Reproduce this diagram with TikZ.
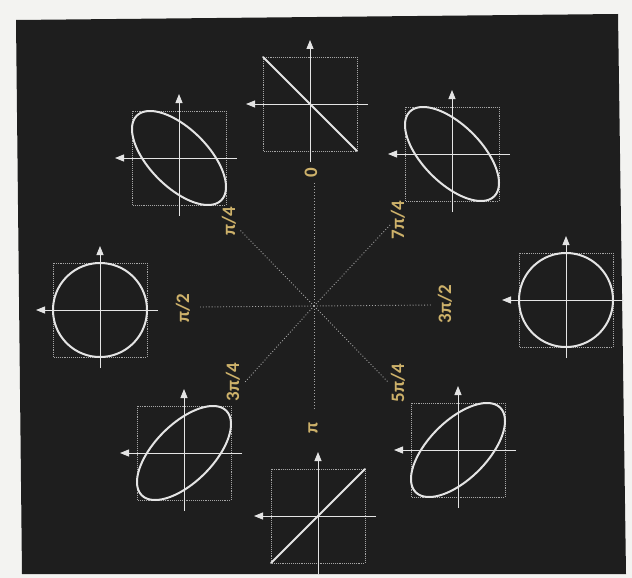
\documentclass[tikz,border=0pt]{standalone}
\usepackage{fontspec}
\setmainfont{Carlito}
\usetikzlibrary{arrows.meta}
\definecolor{paper}{HTML}{F3F3F1}
\definecolor{board}{HTML}{1E1E1E}
\definecolor{chalk}{HTML}{E4E4E4}
\definecolor{dotgray}{HTML}{A6A6A6}
\definecolor{gold}{HTML}{CDB16A}
\begin{document}
\begin{tikzpicture}[x=1pt,y=-1pt,
  boxline/.style={dotgray, densely dotted, line width=0.9pt},
  axisline/.style={chalk, line width=0.9pt},
  tipped/.style={-{Triangle[width=7pt,length=9pt]}},
  trace/.style={chalk, line width=2pt, line join=round, line cap=round},
  radial/.style={dotgray, dotted, line width=0.9pt},
  phaselabel/.style={text=gold, font=\fontsize{19}{19}\selectfont\bfseries, rotate=90, inner sep=0pt},
  panel/.pic={
    \draw[boxline] (-47,-47) rectangle (47,47);
    \draw[axisline, tipped] (58,0) -- (-64,0);
    \draw[axisline, tipped] (0,58) -- (0,-64);
    \draw[trace] plot[domain=0:360, samples=145] ({47*sin(\x)},{47*sin(\x+#1)});
  }]
\useasboundingbox (0,0) rectangle (632,578);
\fill[paper] (0,0) rectangle (632,578);
\fill[board] (16,20) -- (618,14) -- (626,574) -- (22,574) -- cycle;

% radial dotted lines
\coordinate (O) at (314,306);
\coordinate (e0) at (314,182);
\coordinate (e1) at (240,230);
\coordinate (e2) at (200,307);
\coordinate (e3) at (245,382);
\coordinate (e4) at (314,410);
\coordinate (e5) at (388,382);
\coordinate (e6) at (432,305);
\coordinate (e7) at (390,225);
\foreach \e in {e0,e1,e2,e3,e4,e5,e6,e7} \draw[radial] (O) -- (\e);

% panels
\coordinate (P0) at (310,104);
\coordinate (P1) at (179,158);
\coordinate (P2) at (100,310);
\coordinate (P3) at (184,453);
\coordinate (P4) at (318,516);
\coordinate (P5) at (458,450);
\coordinate (P6) at (566,300);
\coordinate (P7) at (452,154);
\pic at (P0) {panel=0};
\pic at (P1) {panel=52};
\pic at (P2) {panel=90};
\pic at (P3) {panel=128};
\pic at (P4) {panel=180};
\pic at (P5) {panel=232};
\pic at (P6) {panel=270};
\pic at (P7) {panel=308};

% labels
\node[phaselabel] (l0) at (311,173) {0};
\node[phaselabel] (l1) at (229,221) {π/4};
\node[phaselabel] (l2) at (183,308) {π/2};
\node[phaselabel] (l3) at (233,382) {3π/4};
\node[phaselabel] (l4) at (313,428) {π};
\node[phaselabel] (l5) at (398,383) {5π/4};
\node[phaselabel] (l6) at (445,304) {3π/2};
\node[phaselabel] (l7) at (398,220) {7π/4};
\end{tikzpicture}
\end{document}
